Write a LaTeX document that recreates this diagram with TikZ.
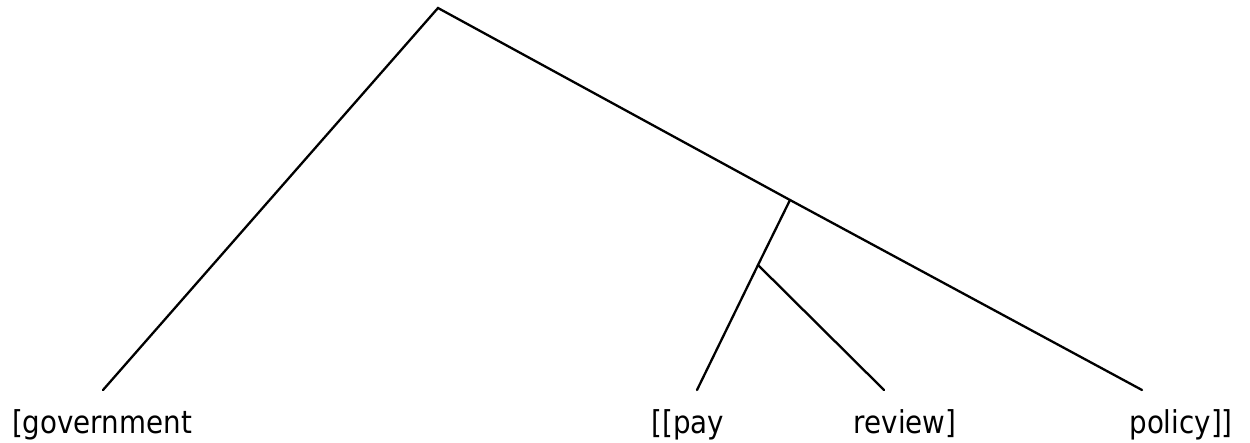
\documentclass[tikz,border=0pt]{standalone}
\usepackage{fontspec}
\setmainfont[FakeStretch=0.88]{DejaVu Sans}
\begin{document}
\begin{tikzpicture}[x=1pt,y=-1pt,
  branch/.style={line width=2.3pt, line cap=round},
  leaf/.style={anchor=base, inner sep=0pt, font=\fontsize{31.5}{36}\selectfont}]
\useasboundingbox (0,0) rectangle (1250,443);
\coordinate (root) at (438,8);
\coordinate (mid) at (790,200);
\coordinate (inner) at (758,265);
\coordinate (eGov) at (103,390);
\coordinate (ePay) at (697,390);
\coordinate (eRev) at (884,390);
\coordinate (ePol) at (1142,390);
\node[leaf] (gov) at (102,433) {[government};
\node[leaf] (pay) at (688,433) {[[pay};
\node[leaf] (rev) at (905,433) {review]};
\node[leaf] (pol) at (1181,433) {policy]]};
\draw[branch] (eGov) -- (root) -- (mid) -- (ePol);
\draw[branch] (mid) -- (inner) -- (ePay);
\draw[branch] (inner) -- (eRev);
\end{tikzpicture}
\end{document}
